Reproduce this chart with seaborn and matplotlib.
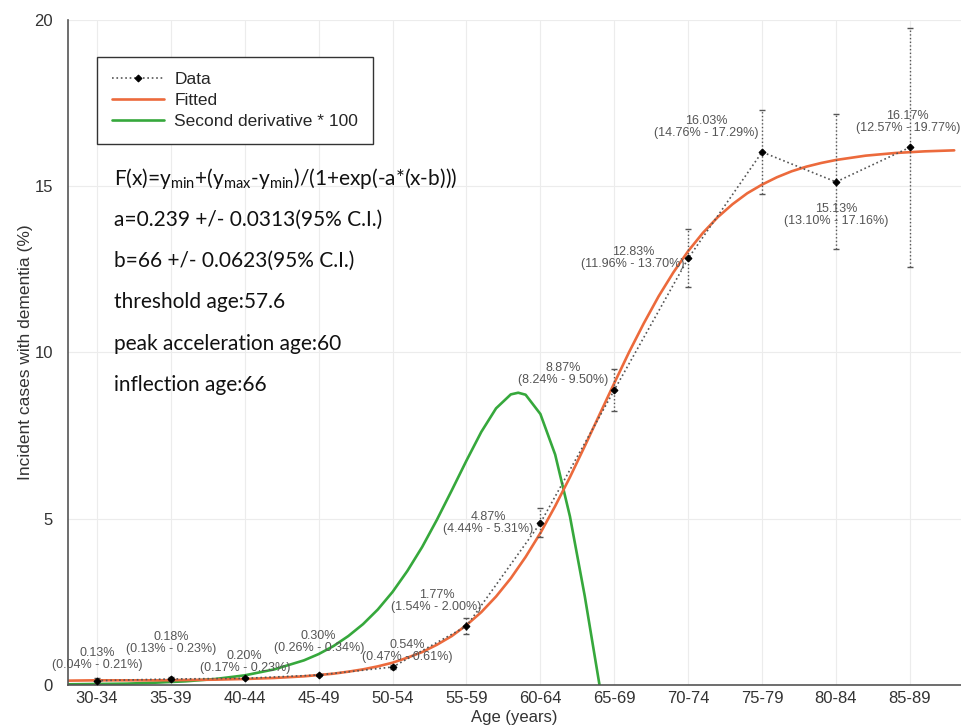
import pandas as pd
import matplotlib
matplotlib.use("Agg")
import matplotlib.pyplot as plt
import seaborn as sns

# age groups and observed incidence (%) with 95% CI
age_groups = ['30-34', '35-39', '40-44', '45-49', '50-54', '55-59',
              '60-64', '65-69', '70-74', '75-79', '80-84', '85-89']
age_mid = [32, 37, 42, 47, 52, 57, 62, 67, 72, 77, 82, 87]
incidence = [0.13, 0.18, 0.20, 0.30, 0.54, 1.77, 4.87, 8.87, 12.83, 16.03, 15.13, 16.17]
ci_low = [0.04, 0.13, 0.17, 0.26, 0.47, 1.54, 4.44, 8.24, 11.96, 14.76, 13.10, 12.57]
ci_high = [0.21, 0.23, 0.23, 0.34, 0.61, 2.00, 5.31, 9.50, 13.70, 17.29, 17.16, 19.77]

# fitted curve
fit_age = [30, 32, 34, 36, 38, 40, 42, 44, 46, 47, 48, 49, 50, 51, 52, 53, 54, 55,
           56, 57, 58, 59, 60, 61, 62, 63, 64, 65, 66, 67, 68, 69, 70, 71, 72, 73,
           74, 75, 76, 77, 78, 79, 80, 81, 82, 84, 86, 88, 90]
fit_val = [0.13, 0.14, 0.14, 0.14, 0.15, 0.16, 0.18, 0.21, 0.26, 0.30, 0.34, 0.40,
           0.47, 0.56, 0.67, 0.82, 0.99, 1.21, 1.47, 1.80, 2.19, 2.66, 3.21, 3.85,
           4.57, 5.38, 6.25, 7.18, 8.13, 9.08, 10.01, 10.88, 11.69, 12.41, 13.05,
           13.60, 14.07, 14.46, 14.79, 15.05, 15.27, 15.45, 15.59, 15.70, 15.79,
           15.92, 16.00, 16.05, 16.08]

# second derivative * 100
deriv_age = [30, 32, 34, 36, 38, 40, 42, 44, 46, 47, 48, 49, 50, 51, 52, 53, 54,
             55, 56, 57, 58, 59, 60, 60.5, 61, 62, 63, 64, 65, 66, 67]
deriv_val = [0.02, 0.03, 0.04, 0.07, 0.11, 0.18, 0.29, 0.47, 0.74, 0.93, 1.17,
             1.47, 1.83, 2.27, 2.80, 3.43, 4.15, 4.97, 5.85, 6.75, 7.61, 8.32,
             8.74, 8.79, 8.73, 8.15, 6.93, 5.07, 2.68, 0.0, -2.68]

# label offsets from each point, in pixels
label_dx = [0, 0, 0, 0, 15, -30, -52, -51, -55, -56, 0, -2]
label_dy = [22, 36, 16, 33, 16, 25, 0, 16, 0, 25, -33, 25]

info_lines = [
    r'F(x)=y$_{\mathregular{min}}$+(y$_{\mathregular{max}}$-y$_{\mathregular{min}}$)/(1+exp(-a*(x-b)))',
    'a=0.239 +/- 0.0313(95% C.I.)',
    'b=66 +/- 0.0623(95% C.I.)',
    'threshold age:57.6',
    'peak acceleration age:60',
    'inflection age:66',
]

ORANGE = '#ec6a3c'
GREEN = '#36a83c'

sns.set_theme(style='white')
plt.rcParams['font.family'] = ['Liberation Sans', 'DejaVu Sans']

data = pd.DataFrame({'age': age_mid, 'inc': incidence})
fit = pd.DataFrame({'age': fit_age, 'val': fit_val})
deriv = pd.DataFrame({'age': deriv_age, 'val': deriv_val})

fig = plt.figure(figsize=(9.61, 7.28), dpi=100)
ax = fig.add_axes([0.0708, 0.0591, 0.9292, 0.9134])

sns.lineplot(data=deriv, x='age', y='val', color=GREEN, lw=1.9, sort=False,
             label='Second derivative * 100', ax=ax)
sns.lineplot(data=fit, x='age', y='val', color=ORANGE, lw=1.9, sort=False,
             label='Fitted', ax=ax)

err = [[v - lo for v, lo in zip(incidence, ci_low)],
       [hi - v for v, hi in zip(incidence, ci_high)]]
eb = ax.errorbar(age_mid, incidence, yerr=err, fmt='none', ecolor='#555555',
                 elinewidth=1.0, capsize=2.5, capthick=1.0, zorder=3)
eb[2][0].set_linestyle(':')

sns.lineplot(data=data, x='age', y='inc', color='#555555', lw=1.2, ls=':',
             marker='D', markersize=3.5, markerfacecolor='black',
             markeredgecolor='black', sort=False, label='Data', ax=ax, zorder=4)

for i, txt in enumerate(incidence):
    lab = f'{incidence[i]:.2f}%\n({ci_low[i]:.2f}% - {ci_high[i]:.2f}%)'
    ax.annotate(lab, (age_mid[i], incidence[i]), xytext=(label_dx[i], label_dy[i]),
                textcoords='offset pixels', ha='center', va='center',
                fontsize=9, color='#555555', linespacing=1.0, zorder=5)

for k, line in enumerate(info_lines):
    ax.text(0.0515, 0.762 - k * 0.0622, line, transform=ax.transAxes,
            fontsize=15, family='Lato', color='#111111', va='center', ha='left')

ax.set_xlim(30.04, 90.46)
ax.set_ylim(0, 20)
ax.set_xticks(age_mid)
ax.set_xticklabels(age_groups)
ax.set_yticks([0, 5, 10, 15, 20])
ax.grid(True, color='#ececec', lw=0.8)
ax.set_axisbelow(True)
for side in ['top', 'right']:
    ax.spines[side].set_visible(False)
for side in ['left', 'bottom']:
    ax.spines[side].set_color('#555555')
    ax.spines[side].set_linewidth(1.2)
ax.tick_params(axis='both', direction='in', length=6, width=1.0, color='#555555',
               labelsize=12, labelcolor='#333333')
ax.tick_params(axis='x', pad=4)
ax.tick_params(axis='y', pad=11)
ax.set_xlabel('Age (years)', fontsize=12, color='#333333', labelpad=3)
ax.set_ylabel('Incident cases with dementia (%)', fontsize=12.5, color='#333333',
              labelpad=1)

handles, labels = ax.get_legend_handles_labels()
order = [labels.index(n) for n in ['Data', 'Fitted', 'Second derivative * 100']]
leg = ax.legend([handles[i] for i in order], [labels[i] for i in order],
                loc='upper left', bbox_to_anchor=(0.0325, 0.944), borderaxespad=0,
                fontsize=12.5, frameon=True, fancybox=False, framealpha=1,
                edgecolor='#333333', handlelength=3.0, handletextpad=0.6,
                labelspacing=0.33, borderpad=0.85)
leg.get_frame().set_linewidth(1.0)

fig.savefig('out.png', dpi=100)
plt.close()
